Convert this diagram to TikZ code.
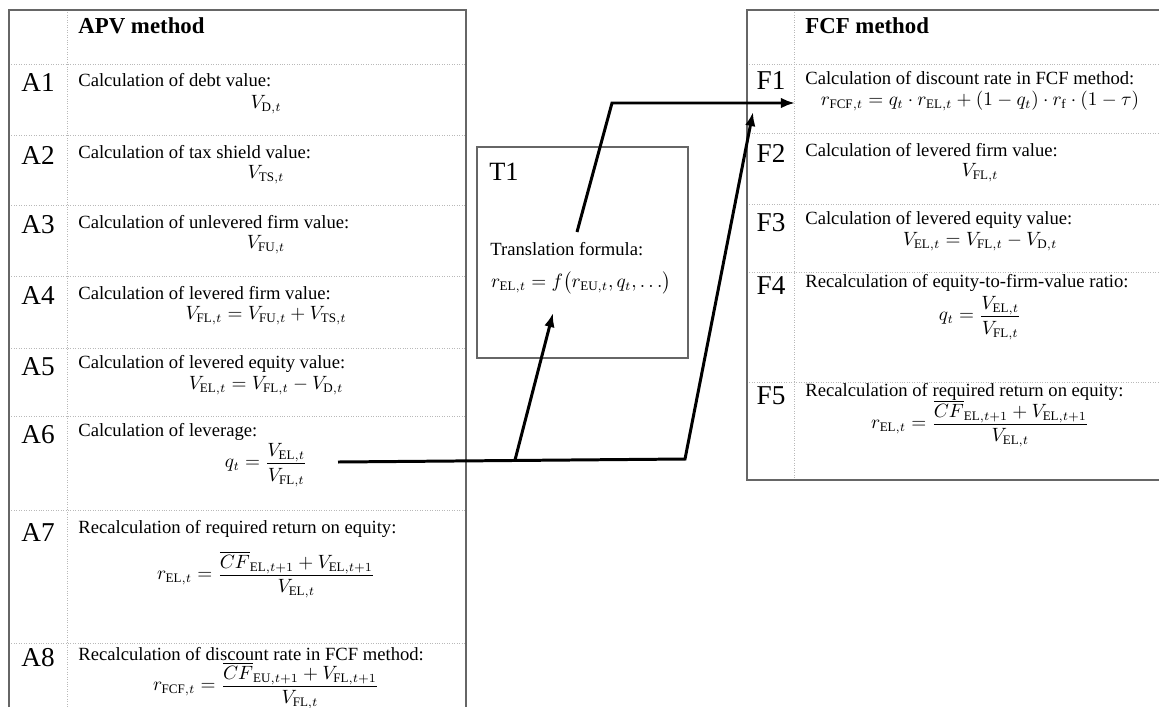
\documentclass[tikz,border=0pt]{standalone}
\usepackage{amsmath,amssymb}
\usepackage{fontspec}
\setmainfont{Liberation Serif}
\usetikzlibrary{arrows.meta}
\newcommand{\tightfrac}[2]{\frac{\textstyle #1\vphantom{V_{\mathrm{F}}}}{\textstyle\rule{0pt}{9.6pt}#2}}

\begin{document}
\begin{tikzpicture}[x=0.02cm,y=-0.02cm,
  rule/.style={gray!55,densely dotted,line width=0.4pt},
  frame/.style={black!60,line width=0.6pt},
  lab/.style={inner sep=0pt,font=\fontsize{15.5}{18}\selectfont},
  head/.style={anchor=west,inner sep=0pt,font=\fontsize{13}{15}\selectfont\bfseries},
  desc/.style={anchor=west,inner sep=0pt,font=\fontsize{10.6}{12}\selectfont},
  eq/.style={inner sep=0pt,font=\fontsize{10.6}{12}\selectfont},
  link/.style={line width=1.7pt,line join=miter},
  tip/.style={-{Latex[length=8pt,width=6pt]}}]
\useasboundingbox (0,0) rectangle (1159,707);
% APV table
\draw[rule] (67,10) -- (67,707);
\foreach \y in {64,135,205,276,348,416,510,643}
  \draw[rule] (9,\y) -- (466,\y);
\draw[frame] (9,707) -- (9,10) -- (466,10) -- (466,707);
\node[head] (apvhead) at (78,26) {APV method};
\node[lab] (a1lab) at (38,83) {A1};
\node[desc] (a1txt) at (78,80) {Calculation of debt value:};
\node[eq] (a1eq) at (266,105) {$V_{\mathrm{D},t}$};
\node[lab] (a2lab) at (38,155) {A2};
\node[desc] (a2txt) at (78,152) {Calculation of tax shield value:};
\node[eq] (a2eq) at (266,175) {$V_{\mathrm{TS},t}$};
\node[lab] (a3lab) at (38,225) {A3};
\node[desc] (a3txt) at (78,222) {Calculation of unlevered firm value:};
\node[eq] (a3eq) at (266,245) {$V_{\mathrm{FU},t}$};
\node[lab] (a4lab) at (38,296) {A4};
\node[desc] (a4txt) at (78,293) {Calculation of levered firm value:};
\node[eq] (a4eq) at (266,316) {$V_{\mathrm{FL},t}=V_{\mathrm{FU},t}+V_{\mathrm{TS},t}$};
\node[lab] (a5lab) at (38,367) {A5};
\node[desc] (a5txt) at (78,364) {Calculation of levered equity value:};
\node[eq] (a5eq) at (266,386) {$V_{\mathrm{EL},t}=V_{\mathrm{FL},t}-V_{\mathrm{D},t}$};
\node[lab] (a6lab) at (38,435) {A6};
\node[desc] (a6txt) at (78,432) {Calculation of leverage:};
\node[eq] (a6eq) at (266,465) {$q_t=\tightfrac{V_{\mathrm{EL},t}}{V_{\mathrm{FL},t}}$};
\node[lab] (a7lab) at (38,532) {A7};
\node[desc] (a7txt) at (78,529) {Recalculation of required return on equity:};
\node[eq] (a7eq) at (266,575) {$r_{\mathrm{EL},t}=\tightfrac{\overline{CF}_{\mathrm{EL},t+1}+V_{\mathrm{EL},t+1}}{V_{\mathrm{EL},t}}$};
\node[lab] (a8lab) at (38,658) {A8};
\node[desc] (a8txt) at (78,654) {Recalculation of discount rate in FCF method:};
\node[eq] (a8eq) at (266,686) {$r_{\mathrm{FCF},t}=\tightfrac{\overline{CF}_{\mathrm{EU},t+1}+V_{\mathrm{FL},t+1}}{V_{\mathrm{FL},t}}$};
% translation box
\draw[frame] (477,147) rectangle (688,358);
\node[lab,anchor=west,font=\fontsize{15}{17}\selectfont] (t1lab) at (489,172) {T1};
\node[desc] (t1txt) at (490,249) {Translation formula:};
\node[eq] (t1eq) at (581,283) {$r_{\mathrm{EL},t}=f\bigl(r_{\mathrm{EU},t},q_t,\ldots\bigr)$};
% FCF table
\draw[rule] (794,10) -- (794,480);
\foreach \y in {64,133,204,272,382}
  \draw[rule] (747,\y) -- (1159,\y);
\draw[frame] (1159,10) -- (747,10) -- (747,480) -- (1159,480);
\node[head] (fcfhead) at (805,26) {FCF method};
\node[lab] (f1lab) at (771,81) {F1};
\node[desc] (f1txt) at (805,78) {Calculation of discount rate in FCF method:};
\node[eq] (f1eq) at (980,101) {$r_{\mathrm{FCF},t}=q_t\cdot r_{\mathrm{EL},t}+(1-q_t)\cdot r_{\mathrm{f}}\cdot(1-\tau)$};
\node[lab] (f2lab) at (771,153) {F2};
\node[desc] (f2txt) at (805,150) {Calculation of levered firm value:};
\node[eq] (f2eq) at (980,173) {$V_{\mathrm{FL},t}$};
\node[lab] (f3lab) at (771,223) {F3};
\node[desc] (f3txt) at (805,220) {Calculation of levered equity value:};
\node[eq] (f3eq) at (980,242) {$V_{\mathrm{EL},t}=V_{\mathrm{FL},t}-V_{\mathrm{D},t}$};
\node[lab] (f4lab) at (771,286) {F4};
\node[desc] (f4txt) at (805,283) {Recalculation of equity-to-firm-value ratio:};
\node[eq] (f4eq) at (980,318) {$q_t=\tightfrac{V_{\mathrm{EL},t}}{V_{\mathrm{FL},t}}$};
\node[lab] (f5lab) at (771,396) {F5};
\node[desc] (f5txt) at (805,392) {Recalculation of required return on equity:};
\node[eq] (f5eq) at (980,424) {$r_{\mathrm{EL},t}=\tightfrac{\overline{CF}_{\mathrm{EL},t+1}+V_{\mathrm{EL},t+1}}{V_{\mathrm{EL},t}}$};
% connectors
\coordinate (qout) at (338,462);
\coordinate (fork) at (515,460);
\coordinate (knee) at (685,459);
\coordinate (t1in) at (553,313);
\coordinate (t1out) at (577,232);
\coordinate (elbow) at (612,103);
\coordinate (f1in) at (795,103);
\coordinate (f1low) at (753,112);
\draw[link,tip] (qout) -- (knee) -- (f1low);
\draw[link,tip] (fork) -- (t1in);
\draw[link,tip] (t1out) -- (elbow) -- (f1in);
\end{tikzpicture}
\end{document}
